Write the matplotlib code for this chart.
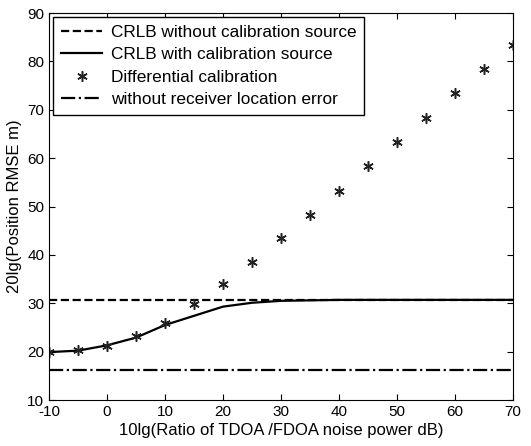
import matplotlib
matplotlib.use('Agg')
import matplotlib.pyplot as plt

plt.rcParams['font.family'] = ['Liberation Sans', 'DejaVu Sans']
plt.rcParams['axes.unicode_minus'] = False

# Данные
snr = [-10, -5, 0, 5, 10, 15, 20, 25, 30, 35, 40, 45, 50, 55, 60, 65, 70]
crlb_without = [30.6] * len(snr)
crlb_with = [19.9, 20.2, 21.3, 22.9, 25.5, 27.4, 29.3, 30.1, 30.5, 30.6, 30.7,
             30.7, 30.7, 30.7, 30.7, 30.7, 30.7]
diff_calib = [19.9, 20.3, 21.2, 23.2, 26.0, 29.8, 34.0, 38.5, 43.4, 48.3, 53.3,
              58.3, 63.4, 68.3, 73.4, 78.5, 83.4]
no_rx_error = [16.3] * len(snr)

fig = plt.figure(figsize=(5.31, 4.46), dpi=100)
ax = fig.add_axes([49 / 531, 46 / 446, 464 / 531, 387 / 446])

ax.plot(snr, crlb_without, 'k--', linewidth=1.6, label='CRLB without calibration source')
ax.plot(snr, crlb_with, 'k-', linewidth=1.6, label='CRLB with calibration source')
# asterisk like MATLAB '*'
ax.plot(snr, diff_calib, linestyle='none', marker=(6, 2, 0), color='#222222', markersize=7.5,
        markeredgewidth=1.1, label='Differential calibration')
ax.plot(snr, no_rx_error, 'k-.', linewidth=1.6, label='without receiver location error')

ax.set_xlim(-10, 70)
ax.set_ylim(10, 90)
ax.set_xticks(range(-10, 71, 10))
ax.set_yticks(range(10, 91, 10))
ax.tick_params(direction='in', top=True, right=True, labelsize=11, length=4)
ax.set_xlabel('10lg(Ratio of TDOA /FDOA noise power dB)', fontsize=12, labelpad=3)
ax.set_ylabel('20lg(Position RMSE m)', fontsize=12, labelpad=4)

leg = ax.legend(loc='upper left', fontsize=12.4, fancybox=False, edgecolor='black',
                framealpha=1, borderaxespad=0.25, handlelength=2.4, labelspacing=0.42,
                borderpad=0.45, handletextpad=0.5)
leg.get_frame().set_linewidth(1.0)

fig.savefig('out.png', dpi=100)
